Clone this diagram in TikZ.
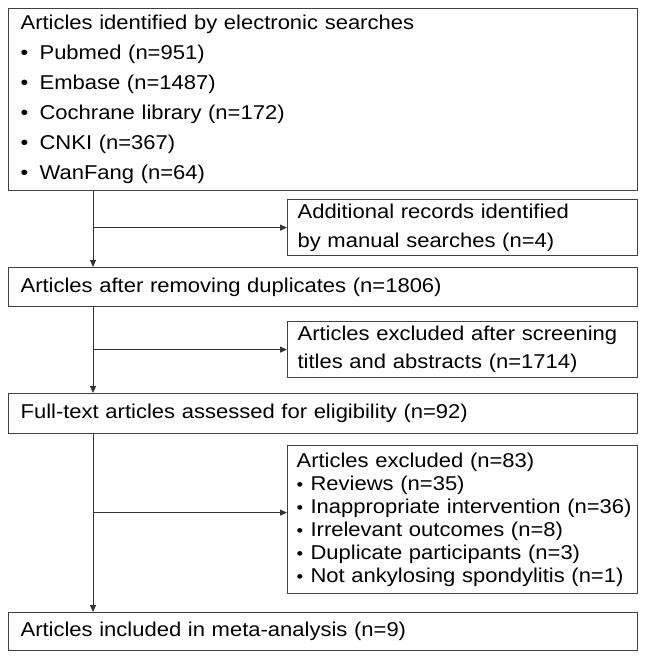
\documentclass[tikz,border=0pt]{standalone}
\usepackage{fontspec}
\setmainfont{Liberation Sans}[FakeStretch=1.1]
\usetikzlibrary{arrows.meta}
\newcommand\bulA{\makebox[19pt][l]{•}}
\newcommand\bulB{\makebox[14pt][l]{{\fontsize{17}{17}\selectfont •}}}
\begin{document}
\begin{tikzpicture}[x=1pt,y=-1pt,
  box/.style={draw=black!75, line width=1.2pt, inner xsep=10pt, inner ysep=0pt,
    anchor=north west, align=left, text width=330pt,
    font=\fontsize{20}{29}\selectfont},
  widebox/.style={box, inner xsep=12pt, text width=605pt},
  arr/.style={draw=black!80, line width=1pt, -{Triangle[length=7pt,width=6pt]}}]
\useasboundingbox (0,0) rectangle (646,659);
\coordinate (spine) at (93,0);
\node[widebox, minimum height=182pt, font=\fontsize{20}{30}\selectfont] (b1) at (8,8)
  {Articles identified by electronic searches\\
   \bulA Pubmed (n=951)\\
   \bulA Embase (n=1487)\\
   \bulA Cochrane library (n=172)\\
   \bulA CNKI (n=367)\\
   \bulA WanFang (n=64)};
\node[box, minimum height=56pt] (e1) at (287,199)
  {Additional records identified\\by manual searches (n=4)};
\node[widebox, minimum height=39pt] (b2) at (8,267)
  {Articles after removing duplicates (n=1806)};
\node[box, minimum height=56pt, font=\fontsize{20}{28}\selectfont] (e2) at (287,321)
  {Articles excluded after screening\\titles and abstracts (n=1714)};
\node[widebox, minimum height=40pt] (b3) at (8,393)
  {Full-text articles assessed for eligibility (n=92)};
\node[box, minimum height=148pt, inner xsep=9pt, text width=332pt, font=\fontsize{20}{23}\selectfont] (e3) at (287,445)
  {Articles excluded (n=83)\\
   \bulB Reviews (n=35)\\
   \makebox[332pt][l]{\bulB Inappropriate intervention (n=36)}\\
   \bulB Irrelevant outcomes (n=8)\\
   \bulB Duplicate participants (n=3)\\
   \bulB Not ankylosing spondylitis (n=1)};
\node[widebox, minimum height=38pt] (b4) at (8,612)
  {Articles included in meta-analysis (n=9)};
\draw[arr] (b1.south -| spine) -- (b2.north -| spine);
\draw[arr] (b2.south -| spine) -- (b3.north -| spine);
\draw[arr] (b3.south -| spine) -- (b4.north -| spine);
\draw[arr] (e1.west -| spine) -- (e1.west);
\draw[arr] (e2.west -| spine) -- (e2.west);
\draw[arr] ([yshift=7pt]e3.west -| spine) -- ([yshift=7pt]e3.west);
\end{tikzpicture}
\end{document}
